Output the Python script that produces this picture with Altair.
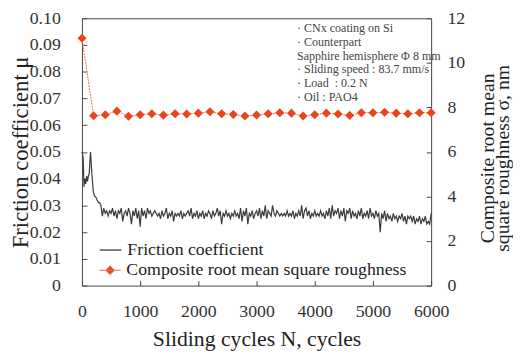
import altair as alt
import pandas as pd

# ---------------- data ----------------
fric_cycles_start = [0, 20, 35, 50, 65, 80, 95, 110, 125, 146, 170, 195, 215, 240, 260, 285, 305]
fric_values_start = [0.050, 0.048, 0.037, 0.040, 0.038, 0.041, 0.039, 0.041, 0.042, 0.050,
                     0.042, 0.035, 0.0335, 0.033, 0.032, 0.031, 0.031]

fric_seg1 = [0.030, 0.026, 0.029, 0.027, 0.028, 0.026, 0.028, 0.027, 0.029, 0.026,
             0.028, 0.025, 0.028, 0.027, 0.029, 0.024, 0.027, 0.028, 0.026, 0.029,
             0.027, 0.023, 0.028, 0.026, 0.029, 0.025, 0.028, 0.022]
fric_seg2 = [0.029, 0.026, 0.028, 0.025, 0.029, 0.027, 0.028, 0.026, 0.027, 0.028,
             0.027, 0.026, 0.027, 0.025, 0.028, 0.026, 0.027, 0.029, 0.025, 0.027,
             0.026, 0.028, 0.024, 0.027, 0.026, 0.027, 0.026, 0.028, 0.025, 0.027,
             0.026, 0.027, 0.028, 0.026, 0.029, 0.025, 0.027, 0.026, 0.028, 0.025]
fric_seg3 = [0.027, 0.026, 0.028, 0.025, 0.027, 0.026, 0.028, 0.027, 0.025, 0.028,
             0.026, 0.027, 0.029, 0.026, 0.028, 0.023, 0.027, 0.026, 0.028, 0.026,
             0.027, 0.025, 0.027, 0.026, 0.028, 0.026, 0.027, 0.025, 0.029, 0.024,
             0.028, 0.026, 0.029, 0.023, 0.027, 0.026, 0.028, 0.025, 0.027, 0.028]
fric_seg4 = [0.026, 0.029, 0.025, 0.028, 0.026, 0.030, 0.025, 0.028, 0.027, 0.026,
             0.030, 0.027, 0.026, 0.028, 0.027, 0.026, 0.027, 0.026, 0.027, 0.026,
             0.028, 0.026, 0.027, 0.026, 0.028, 0.025, 0.027, 0.026, 0.028, 0.026,
             0.030, 0.025, 0.028, 0.029, 0.026, 0.028, 0.025, 0.027, 0.026, 0.028]
fric_seg5 = [0.026, 0.027, 0.026, 0.028, 0.026, 0.027, 0.025, 0.028, 0.026, 0.029,
             0.025, 0.030, 0.026, 0.028, 0.027, 0.029, 0.025, 0.028, 0.026, 0.029,
             0.024, 0.028, 0.027, 0.029, 0.025, 0.028, 0.026, 0.027, 0.025, 0.028,
             0.026, 0.029, 0.025, 0.027, 0.026, 0.028, 0.025, 0.029, 0.026, 0.027]
fric_seg6 = [0.025, 0.028, 0.026, 0.027, 0.020, 0.027, 0.025, 0.028, 0.024, 0.027,
             0.025, 0.026, 0.024, 0.027, 0.025, 0.026, 0.024, 0.026, 0.025, 0.027,
             0.024, 0.026, 0.023, 0.026, 0.025, 0.026, 0.024, 0.026, 0.023, 0.025,
             0.024, 0.026, 0.023, 0.025, 0.024, 0.026, 0.023, 0.024, 0.023, 0.027]

fric_cycles = fric_cycles_start + list(range(325, 6001, 25))
fric_values = fric_values_start + fric_seg1 + fric_seg2 + fric_seg3 + fric_seg4 + fric_seg5 + fric_seg6
assert len(fric_cycles) == len(fric_values)

rough_cycles = list(range(0, 6001, 200))
rough_values = [11.1, 7.62, 7.67, 7.83, 7.60, 7.67, 7.71, 7.65, 7.71, 7.70, 7.74,
                7.80, 7.71, 7.68, 7.61, 7.66, 7.71, 7.76, 7.74, 7.61, 7.67,
                7.74, 7.70, 7.64, 7.76, 7.76, 7.78, 7.74, 7.71, 7.76, 7.76]
assert len(rough_cycles) == len(rough_values)

x_ticks = [0, 1000, 2000, 3000, 4000, 5000, 6000]
left_ticks = [0, 0.01, 0.02, 0.03, 0.04, 0.05, 0.06, 0.07, 0.08, 0.09, 0.10]
right_ticks = [0, 2, 4, 6, 8, 10, 12]

fric_name = "Friction coefficient"
rough_name = "Composite root mean square roughness"

annotation_lines = [
    "\u00b7 CNx coating on Si",
    "\u00b7 Counterpart",
    "\u00a0\u00a0Sapphire hemisphere \u03a6 8 mm",
    "\u00b7 Sliding speed : 83.7 mm/s",
    "\u00b7 Load\u00a0\u00a0: 0.2 N",
    "\u00b7 Oil : PAO4",
]

fric_df = pd.DataFrame({"cycles": fric_cycles, "friction": fric_values, "series": fric_name})
rough_df = pd.DataFrame({"cycles": rough_cycles, "rough": rough_values, "series": rough_name})

FONT = "Liberation Serif, Times New Roman, Times, serif"
W, H = 354, 271

common = dict(tickSize=5, domain=False, grid=False, labelFlush=False, labelFont=FONT,
              labelFontSize=18, labelColor="#333", titleFont=FONT, titleFontWeight="normal",
              titleColor="#222", tickColor="#444", tickWidth=1, offset=-5)

x_axis = alt.Axis(values=x_ticks, format="d", orient="bottom", labelPadding=17,
                  title="Sliding cycles N, cycles", titleFontSize=22,
                  titleX=W / 2, titleY=66, titleAlign="center", titleBaseline="alphabetic",
                  **common)
x_enc = alt.X("cycles:Q", scale=alt.Scale(domain=[0, 6000], nice=False), axis=x_axis)

left_axis = alt.Axis(values=left_ticks, orient="left", labelPadding=22,
                     labelExpr="datum.value == 0 ? '0' : format(datum.value, '.2f')",
                     title="Friction coefficient \u03bc", titleFontSize=23,
                     titleAngle=270, titleX=-60, titleY=H / 2, titleAlign="center",
                     titleBaseline="alphabetic", **common)

right_axis = alt.Axis(values=right_ticks, format="d", orient="right", labelPadding=16,
                      title=["Composite root mean", "square roughness \u03c3, nm"],
                      titleFontSize=20, titleLineHeight=15,
                      titleAngle=270, titleX=68, titleY=H / 2 + 6, titleAlign="center",
                      titleBaseline="alphabetic", **common)

fric_line = alt.Chart(fric_df).mark_line(strokeWidth=1.2).encode(
    x=x_enc,
    y=alt.Y("friction:Q", scale=alt.Scale(domain=[0, 0.10], nice=False), axis=left_axis),
    stroke=alt.Stroke("series:N", scale=alt.Scale(domain=[fric_name], range=["#3a3a3a"]),
                      legend=alt.Legend(orient="none", legendX=17, legendY=223, title=None,
                                        symbolType="stroke", symbolSize=484,
                                        symbolStrokeWidth=1.3, labelFont=FONT,
                                        labelFontSize=18, labelOffset=5, labelColor="#222",
                                        labelLimit=0, padding=0)),
)

rough_y = alt.Y("rough:Q", scale=alt.Scale(domain=[0, 12], nice=False), axis=right_axis)

rough_line = alt.Chart(rough_df).mark_line(color="#f06a4a", strokeWidth=1, strokeDash=[2, 1]).encode(
    x=x_enc, y=rough_y,
)
rough_pts = alt.Chart(rough_df).mark_point(shape="diamond", filled=True, size=85, opacity=1).encode(
    x=x_enc, y=rough_y,
    fill=alt.Fill("series:N", scale=alt.Scale(domain=[rough_name], range=["#e8451e"]),
                  legend=alt.Legend(orient="none", legendX=17, legendY=244, title=None,
                                    symbolType="M-1,0L1,0M0,-0.4L0.4,0L0,0.4L-0.4,0Z",
                                    symbolSize=484, symbolStrokeColor="#f06a4a",
                                    symbolStrokeWidth=1, labelFont=FONT, labelFontSize=18,
                                    labelOffset=5, labelColor="#222", labelLimit=0,
                                    padding=0)),
)

annot = alt.Chart(pd.DataFrame({"k": [0]})).mark_text(
    text=annotation_lines, align="left", baseline="top", font=FONT, fontSize=12.2,
    lineHeight=14, color="#444",
).encode(x=alt.value(218), y=alt.value(4))

rough_layer = alt.layer(rough_line, rough_pts)

chart = alt.layer(fric_line, rough_layer, annot).resolve_scale(y="independent").properties(
    width=W, height=H,
    padding={"left": 75, "top": 8, "right": 83, "bottom": 68},
    autosize=alt.AutoSizeParams(type="none"),
).configure_view(stroke="#444", strokeWidth=1).configure_axis(
    labelFont=FONT, titleFont=FONT,
).configure_text(font=FONT).configure_legend(labelFont=FONT)

chart.save("out.html", embed_options={"renderer": "svg", "actions": False})
